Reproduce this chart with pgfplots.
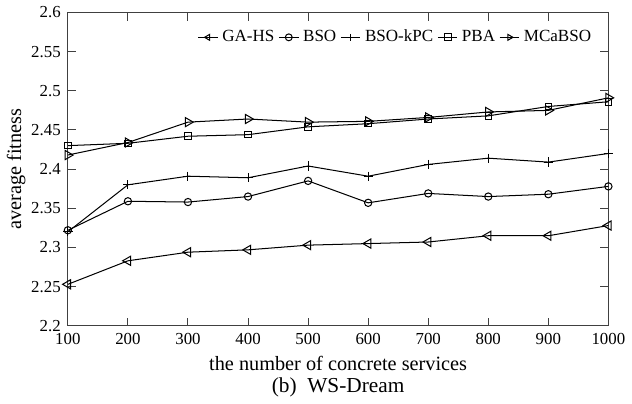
\documentclass[border=0pt]{standalone}
\usepackage{fontspec}
\setmainfont{Liberation Serif}
\usepackage{pgfplots}
\pgfplotsset{compat=1.18}

\begin{document}
\begin{tikzpicture}
\begin{axis}[
    name=ax,
    scale only axis,
    width=266.5pt, height=154.5pt,
    xmin=100, xmax=1000,
    ymin=2.2, ymax=2.6,
    xtick={100,200,...,1000},
    ytick={2.2,2.25,...,2.6},
    xticklabel style={/pgf/number format/1000 sep={}},
    yticklabel style={/pgf/number format/fixed, /pgf/number format/precision=2},
    /pgf/number format/assume math mode=true,
    tick align=inside,
    tick style={black!75, line width=0.5pt},
    major tick length=4pt,
    axis line style={black!75, line width=0.5pt},
    tick label style={font=\fontsize{8.3}{9}\selectfont},
    xlabel={the number of concrete services},
    ylabel={average fitness},
    label style={font=\fontsize{10}{12}\selectfont},
    xlabel style={yshift=1pt},
    ylabel style={yshift=-4pt},
    legend style={draw=none, fill=none, at={(0.98,0.965)}, anchor=north east,
        font=\fontsize{8.4}{9}\selectfont, inner sep=1pt},
    legend columns=-1,
    legend image code/.code={\draw[mark repeat=2,mark phase=2,#1,mark size=1.7pt]
        plot coordinates {(0cm,0cm) (0.17cm,0cm) (0.34cm,0cm)};},
    every axis plot/.append style={black, line width=0.5pt},
    /tikz/every even column/.append style={column sep=0pt},
]
\addplot[mark=triangle, mark size=2.6pt, mark options={rotate=90}] coordinates {
(100,2.253) (200,2.283) (300,2.294) (400,2.297) (500,2.303)
(600,2.305) (700,2.307) (800,2.315) (900,2.315) (1000,2.328)};
\addplot[mark=o, mark size=1.8pt] coordinates {
(100,2.322) (200,2.359) (300,2.358) (400,2.365) (500,2.385)
(600,2.357) (700,2.369) (800,2.365) (900,2.368) (1000,2.378)};
\addplot[mark=+, mark size=2.3pt] coordinates {
(100,2.320) (200,2.380) (300,2.391) (400,2.389) (500,2.404)
(600,2.391) (700,2.406) (800,2.414) (900,2.409) (1000,2.420)};
\addplot[mark=square, mark size=1.6pt] coordinates {
(100,2.430) (200,2.433) (300,2.442) (400,2.444) (500,2.454)
(600,2.458) (700,2.464) (800,2.468) (900,2.480) (1000,2.486)};
\addplot[mark=triangle, mark size=2.6pt, mark options={rotate=-90}] coordinates {
(100,2.418) (200,2.434) (300,2.460) (400,2.464) (500,2.460)
(600,2.461) (700,2.466) (800,2.473) (900,2.475) (1000,2.491)};
\legend{GA-HS,BSO,BSO-kPC,PBA,MCaBSO}
\end{axis}
\node[font=\fontsize{10.5}{12}\selectfont, anchor=north] at ([yshift=-22pt]ax.south) {(b)\ \ WS-Dream};
\end{tikzpicture}
\end{document}
